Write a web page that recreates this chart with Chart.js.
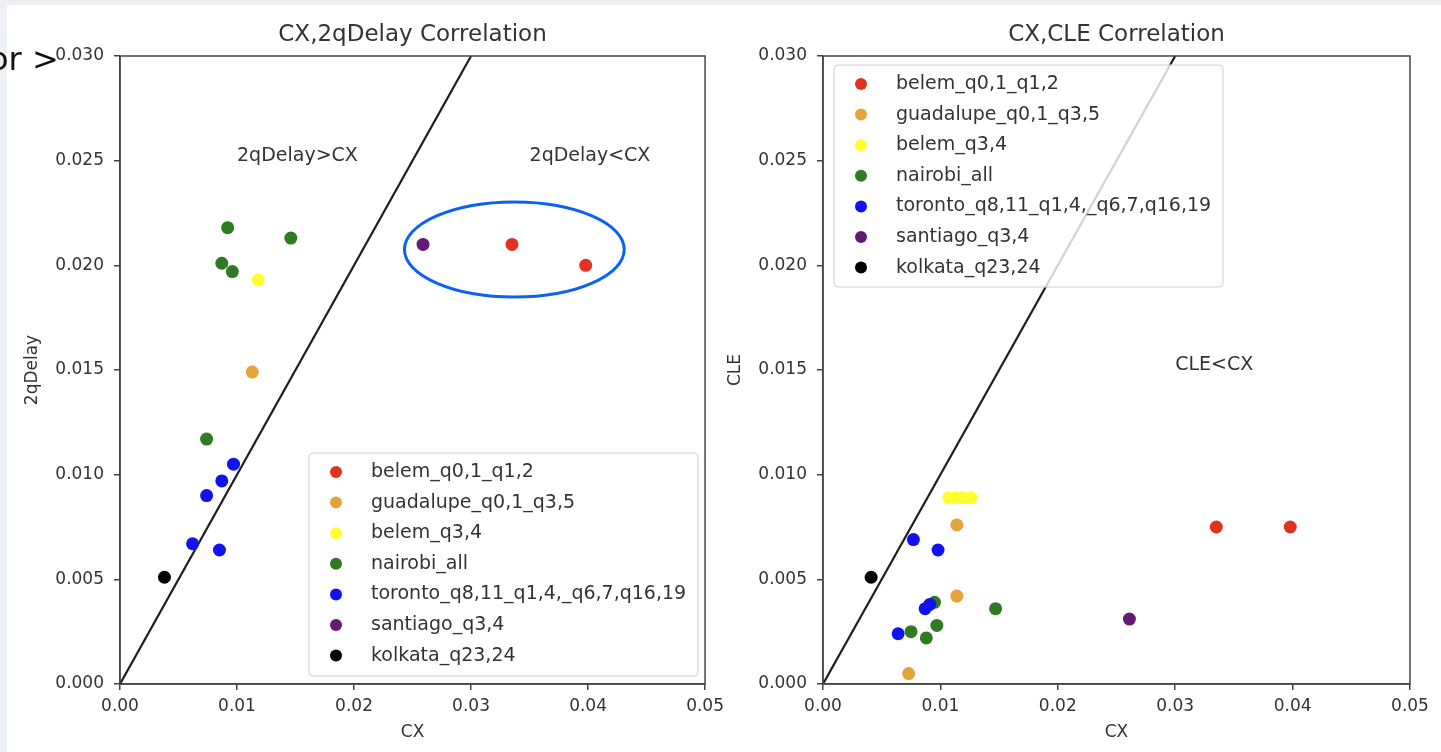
<!DOCTYPE html>
<html>
<head>
<meta charset="utf-8">
<script src="https://cdn.jsdelivr.net/npm/chart.js@4.4.1/dist/chart.umd.min.js"></script>
<style>
  html, body { margin: 0; padding: 0; background: #ffffff; }
  body { width: 1441px; height: 752px; position: relative; overflow: hidden; }
  .strip-top { position: absolute; left: 0; top: 0; width: 1441px; height: 5px; background: #eef0f5; }
  .strip-left { position: absolute; left: 0; top: 0; width: 7px; height: 752px; background: #eef0f5; }
  .crumb { position: absolute; left: -11px; top: 43px; font: 32px/32px "DejaVu Sans", sans-serif; color: #111; white-space: nowrap; }
  .panel { position: absolute; top: 0; height: 752px; }
  #left-panel { left: 0; width: 730px; }
  #right-panel { left: 700px; width: 741px; }
</style>
</head>
<body>
<div class="strip-top"></div>
<div class="strip-left"></div>
<div class="panel" id="left-panel"><canvas id="delay-chart" width="730" height="752"></canvas></div>
<div class="panel" id="right-panel"><canvas id="cle-chart" width="741" height="752"></canvas></div>
<div class="crumb">or &gt;</div>

<script>
// --- Data ---
const seriesLabels = ['belem_q0,1_q1,2', 'guadalupe_q0,1_q3,5', 'belem_q3,4', 'nairobi_all',
                      'toronto_q8,11_q1,4,_q6,7,q16,19', 'santiago_q3,4', 'kolkata_q23,24'];
const seriesColors = ['#e0321f', '#e6a33c', '#ffff30', '#2f7a22', '#1212ee', '#621a72', '#000000'];

// CX vs 2qDelay
const delayCx = [
  [0.0335, 0.0398],
  [0.0113],
  [0.0118],
  [0.0092, 0.0146, 0.0087, 0.0096, 0.0074],
  [0.0097, 0.0087, 0.0074, 0.0062, 0.0085],
  [0.0259],
  [0.0038]
];
const delayValues = [
  [0.0210, 0.0200],
  [0.0149],
  [0.0193],
  [0.0218, 0.0213, 0.0201, 0.0197, 0.0117],
  [0.0105, 0.0097, 0.0090, 0.0067, 0.0064],
  [0.0210],
  [0.0051]
];

// CX vs CLE
const cleCx = [
  [0.0335, 0.0398],
  [0.0114, 0.0114, 0.0073],
  [0.0107, 0.0113, 0.0119, 0.0126],
  [0.0095, 0.0147, 0.0097, 0.0075, 0.0088],
  [0.0077, 0.0098, 0.0087, 0.0091, 0.0064],
  [0.0261],
  [0.0041]
];
const cleValues = [
  [0.0075, 0.0075],
  [0.0076, 0.0042, 0.0005],
  [0.0089, 0.0089, 0.0089, 0.0089],
  [0.0039, 0.0036, 0.0028, 0.0025, 0.0022],
  [0.0069, 0.0064, 0.0036, 0.0038, 0.0024],
  [0.0031],
  [0.0051]
];

const diagonal = [{ x: 0, y: 0 }, { x: 0.03, y: 0.03 }];
const xTicks = [0, 0.01, 0.02, 0.03, 0.04, 0.05];
const yTicks = [0, 0.005, 0.010, 0.015, 0.020, 0.025, 0.030];

const delayNotes = [
  { text: '2qDelay>CX', x: 0.01, y: 0.025 },
  { text: '2qDelay<CX', x: 0.035, y: 0.025 }
];
const cleNotes = [{ text: 'CLE<CX', x: 0.03, y: 0.015 }];
// highlighted group: centre and half-axes, in data units
const delayEllipse = [{ x: 0.0337, y: 0.02076, rx: 0.00939, ry: 0.00227 }];

Chart.defaults.font.family = '"DejaVu Sans", sans-serif';
Chart.defaults.font.size = 17;
Chart.defaults.color = '#333333';

function buildDatasets(xs, ys) {
  const sets = seriesLabels.map((label, i) => ({
    label: label,
    data: xs[i].map((x, j) => ({ x: x, y: ys[i][j] })),
    backgroundColor: seriesColors[i],
    borderWidth: 0,
    pointRadius: 6.5,
    order: 10 - i
  }));
  sets.push({
    label: 'y=x',
    data: diagonal,
    showLine: true,
    borderColor: '#1e1e1e',
    borderWidth: 2.2,
    pointRadius: 0,
    order: 50,
    skipLegend: true
  });
  return sets;
}

// frame, notes, ellipse and a matplotlib style legend box
const decorPlugin = {
  id: 'decor',
  afterDatasetsDraw(chart, args, opts) {
    const { ctx, chartArea: a, scales: { x, y } } = chart;
    ctx.save();

    (opts.ellipses || []).forEach(e => {
      const cx = x.getPixelForValue(e.x);
      const cy = y.getPixelForValue(e.y);
      const rx = Math.abs(x.getPixelForValue(e.x + e.rx) - cx);
      const ry = Math.abs(y.getPixelForValue(e.y + e.ry) - cy);
      ctx.beginPath();
      ctx.ellipse(cx, cy, rx, ry, 0, 0, Math.PI * 2);
      ctx.strokeStyle = '#0b62f2';
      ctx.lineWidth = 3;
      ctx.stroke();
    });

    ctx.font = '19px "DejaVu Sans", sans-serif';
    ctx.fillStyle = '#333333';
    ctx.textAlign = 'left';
    ctx.textBaseline = 'alphabetic';
    (opts.notes || []).forEach(n => {
      ctx.fillText(n.text, x.getPixelForValue(n.x), y.getPixelForValue(n.y));
    });

    ctx.strokeStyle = '#444444';
    ctx.lineWidth = 1.5;
    ctx.strokeRect(a.left, a.top, a.right - a.left, a.bottom - a.top);

    const lg = opts.legend;
    if (lg) {
      const bx = a.left + lg.left, by = a.top + lg.top;
      ctx.beginPath();
      ctx.roundRect(bx, by, lg.width, lg.height, 4);
      ctx.fillStyle = 'rgba(255,255,255,0.8)';
      ctx.fill();
      ctx.strokeStyle = '#d0d0d0';
      ctx.lineWidth = 1;
      ctx.stroke();
      ctx.font = '19px "DejaVu Sans", sans-serif';
      ctx.textBaseline = 'middle';
      chart.data.datasets.filter(d => !d.skipLegend).forEach((d, i) => {
        const rowY = by + lg.first + i * lg.row;
        ctx.beginPath();
        ctx.arc(bx + 27, rowY, 6, 0, Math.PI * 2);
        ctx.fillStyle = d.backgroundColor;
        ctx.fill();
        ctx.fillStyle = '#333333';
        ctx.fillText(d.label, bx + 62, rowY);
      });
    }
    ctx.restore();
  }
};

function buildOptions(title, yTitle, yWidth, rightPad, yTitlePad, decor) {
  return {
    responsive: false,
    animation: false,
    layout: { padding: { left: 0, right: rightPad, top: 0, bottom: 0 } },
    plugins: {
      legend: { display: false },
      tooltip: { enabled: false },
      title: {
        display: true,
        text: title,
        fullSize: false,
        color: '#333333',
        font: { size: 23, weight: 'normal' },
        padding: { top: 21, bottom: 7.4 }
      },
      decor: decor
    },
    scales: {
      x: {
        type: 'linear',
        min: 0,
        max: 0.05,
        afterBuildTicks: s => { s.ticks = xTicks.map(v => ({ value: v })); },
        afterFit: s => { s.height = 68; },
        ticks: { padding: 6, callback: v => v.toFixed(2) },
        grid: { drawOnChartArea: false, tickLength: 6, color: '#444444', lineWidth: 1.5 },
        border: { color: '#444444', width: 1.5 },
        title: { display: true, text: 'CX', padding: { top: 0, bottom: 9 } }
      },
      y: {
        type: 'linear',
        min: 0,
        max: 0.03,
        afterBuildTicks: s => { s.ticks = yTicks.map(v => ({ value: v })); },
        afterFit: s => { s.width = yWidth; },
        ticks: { padding: 10, callback: v => v.toFixed(3) },
        grid: { drawOnChartArea: false, tickLength: 6, color: '#444444', lineWidth: 1.5 },
        border: { color: '#444444', width: 1.5 },
        title: { display: true, text: yTitle, padding: { top: yTitlePad, bottom: 0 } }
      }
    }
  };
}

const delayCtx = document.getElementById('delay-chart').getContext('2d');
const cleCtx = document.getElementById('cle-chart').getContext('2d');

const delayChart = new Chart(delayCtx, {
  type: 'scatter',
  data: { datasets: buildDatasets(delayCx, delayValues) },
  options: buildOptions('CX,2qDelay Correlation', '2qDelay', 120, 24, 22, {
    notes: delayNotes,
    ellipses: delayEllipse,
    legend: { left: 189, top: 397, width: 389, height: 223, first: 19, row: 30.6 }
  }),
  plugins: [decorPlugin]
});

const cleChart = new Chart(cleCtx, {
  type: 'scatter',
  data: { datasets: buildDatasets(cleCx, cleValues) },
  options: buildOptions('CX,CLE Correlation', 'CLE', 123, 31, 25, {
    notes: cleNotes,
    legend: { left: 11, top: 9, width: 389, height: 222, first: 19, row: 30.6 }
  }),
  plugins: [decorPlugin]
});
</script>
</body>
</html>
